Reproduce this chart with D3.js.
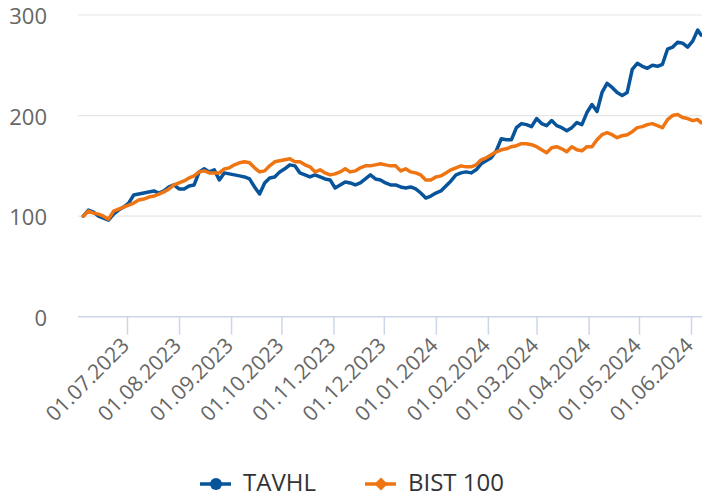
<!DOCTYPE html>
<html><head><meta charset="utf-8">
<script src="https://cdn.jsdelivr.net/npm/d3@7"></script>
<style>body{margin:0;background:#fff}svg{display:block}text{font-family:"Open Sans",sans-serif}</style>
</head><body><svg id="c" width="702" height="499"></svg>
<script>
// Sampling dates: every 3 days from 2023-06-05, plus final point 2024-06-07
const startDate = "2023-06-05";
const stepDays = 3;
const lastDate = "2024-06-07";
const seriesNames = ["TAVHL", "BIST 100"];
const tavhl = [100,106,104,100,98,96,102,106,109,113,121,122,123,124,125,123,125,129,131,127,127,130,131,144,147,144,146,136,143,142,141,140,139,137,129,122,133,138,139,144,147,151,150,143,141,139,141,139,137,136,128,131,134,133,131,133,137,141,137,136,133,131,131,129,128,129,127,123,118,120,123,125,130,135,141,143,144,143,146,152,155,158,165,177,176,176,188,192,191,189,197,192,190,195,190,188,185,188,193,191,203,211,204,223,232,228,223,220,223,246,252,249,247,250,249,251,266,268,273,272,268,274,285,280];
const bist = [100,105,103,102,100,97,105,107,109,111,113,116,117,119,120,122,124,127,131,133,135,138,140,144,145,143,143,143,147,148,151,153,154,153,148,144,145,150,154,155,156,157,154,154,151,149,144,146,143,141,142,144,147,144,145,148,150,150,151,152,151,150,150,145,147,144,143,141,136,136,139,140,143,146,148,150,149,149,151,156,158,161,164,166,167,169,170,172,172,171,169,166,163,168,169,167,164,169,166,165,169,169,176,181,183,181,178,180,181,184,188,189,191,192,190,188,196,200,201,198,197,195,196,193];
const yTicks = [0,100,200,300];
const colors = ["#07549a", "#ef7412"];

const p = d3.timeParse("%Y-%m-%d");
const dts = [];
for (let i = 0; i < tavhl.length - 1; i++) dts.push(d3.timeDay.offset(p(startDate), i * stepDays));
dts.push(p(lastDate));

const L = 78, R = 702;
const svg = d3.select("#c");
const x = d3.scaleTime().domain([new Date(2023,6,1), new Date(2024,5,1)]).range([127, 691]);
const y = d3.scaleLinear().domain([0,300]).range([316.7, 15]);

// grid
svg.append("g").selectAll("line").data(yTicks.filter(d=>d>0)).join("line")
  .attr("x1", L).attr("x2", R).attr("y1", d=>y(d)).attr("y2", d=>y(d))
  .attr("stroke", "#e6e6e6").attr("stroke-width", 1.2);

// y labels
svg.append("g").selectAll("text").data(yTicks).join("text")
  .attr("x", 47).attr("y", d=>y(d)+9).attr("text-anchor","end")
  .attr("font-size", 22).attr("fill", "#666").text(d=>d);

// x axis
const xa = svg.append("g").attr("transform", `translate(0,${y(0)})`)
  .call(d3.axisBottom(x).tickValues(d3.timeMonth.range(new Date(2023,6,1), new Date(2024,6,1)))
    .tickFormat(d3.timeFormat("%d.%m.%Y")).tickSize(18).tickSizeOuter(0));
xa.select(".domain").remove();
xa.append("line").attr("x1", L).attr("x2", R).attr("stroke", "#ccd6eb").attr("stroke-width", 1.5);
xa.selectAll(".tick line").attr("stroke", "#ccd6eb").attr("stroke-width", 1.5);
xa.selectAll(".tick text").attr("font-size", 21).attr("fill", "#666")
  .attr("font-family", '"Open Sans",sans-serif')
  .attr("text-anchor", "end").attr("dy", null).attr("y", 0)
  .attr("transform", "translate(3,30) rotate(-45)");

// lines
const line = d3.line().x((d,i)=>x(dts[i])).y(d=>y(d)).curve(d3.curveLinear);
[tavhl, bist].forEach((s, k) => {
  svg.append("path").datum(s).attr("d", line).attr("fill","none")
    .attr("stroke", colors[k]).attr("stroke-width", 3.5).attr("stroke-linejoin","round").attr("stroke-linecap","round");
});

// legend
const lg = svg.append("g");
const items = [{x:200, tx:243}, {x:365, tx:408}];
const ly = 484;
seriesNames.forEach((n,k) => {
  const g = lg.append("g");
  const it = items[k];
  g.append("line").attr("x1", it.x).attr("x2", it.x+31).attr("y1", ly).attr("y2", ly)
    .attr("stroke", colors[k]).attr("stroke-width", 3.5);
  if (k === 0) g.append("circle").attr("cx", it.x+16).attr("cy", ly).attr("r", 6).attr("fill", colors[k]);
  else g.append("path").attr("d", d3.symbol(d3.symbolDiamond2, 110)()).attr("transform", `translate(${it.x+16},${ly})`).attr("fill", colors[k]);
  g.append("text").attr("x", it.tx).attr("y", 491).attr("font-size", 24).attr("fill", "#333").text(n);
});
</script></body></html>
